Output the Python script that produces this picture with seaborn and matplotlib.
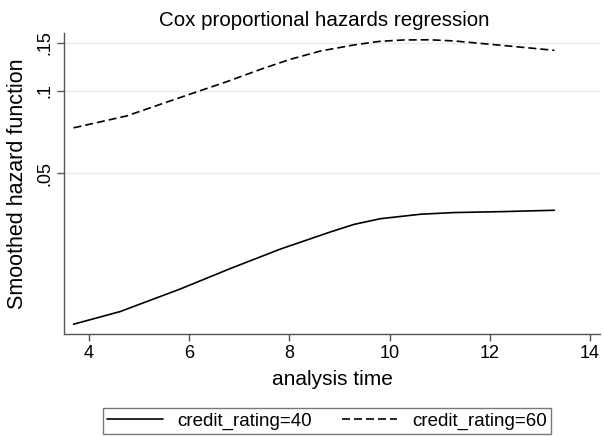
import matplotlib
matplotlib.use("Agg")
import matplotlib.pyplot as plt
import seaborn as sns
import pandas as pd
from matplotlib.ticker import FixedLocator, NullLocator, FixedFormatter
from matplotlib.lines import Line2D

# Data
time_40 = [3.69, 4.62, 5.82, 6.82, 7.82, 8.82, 9.29, 9.82, 10.62, 11.29, 12.29, 13.29]
haz_40 = [0.0141, 0.01568, 0.01895, 0.0225, 0.0265, 0.0306, 0.0326, 0.0342, 0.0355, 0.0360, 0.0363, 0.0367]
time_60 = [3.69, 4.75, 5.4, 6.09, 6.75, 7.42, 8.0, 8.62, 9.29, 9.8, 10.29, 10.8, 11.29, 12.29, 13.29]
haz_60 = [0.0733, 0.081, 0.089, 0.0983, 0.108, 0.1197, 0.130, 0.1397, 0.147, 0.1515, 0.1533, 0.1535, 0.152, 0.1462, 0.1405]
labels = ["credit_rating=40", "credit_rating=60"]
ytick_vals = [0.05, 0.1, 0.15]
ytick_labels = [".05", ".1", ".15"]
xtick_vals = [4, 6, 8, 10, 12, 14]

df = pd.concat([
    pd.DataFrame({"time": time_40, "haz": haz_40, "group": labels[0]}),
    pd.DataFrame({"time": time_60, "haz": haz_60, "group": labels[1]}),
])

sns.set_theme(style="white")
plt.rcParams['font.family'] = ['Liberation Sans', 'DejaVu Sans']
plt.rcParams['text.color'] = 'black'

DASH = (4.8, 2.4)

fig = plt.figure(figsize=(6.04, 4.36), dpi=100)
ax = fig.add_axes([64/604, 1-334/436, (600-64)/604, (334-33)/436])

sns.lineplot(data=df, x="time", y="haz", hue="group", style="group",
             palette=["black", "black"], dashes={labels[0]: "", labels[1]: DASH},
             linewidth=1.2, ax=ax, legend=False, estimator=None, sort=True)

ax.set_yscale("log")
ax.set_ylim(0.01299, 0.1625)
ax.set_xlim(3.5, 14.2)
ax.yaxis.set_major_locator(FixedLocator(ytick_vals))
ax.yaxis.set_major_formatter(FixedFormatter(ytick_labels))
ax.yaxis.set_minor_locator(NullLocator())
ax.set_xticks(xtick_vals)
ax.set_xticklabels([str(v) for v in xtick_vals])

for t in ytick_vals:
    ax.axhline(t, color="#ececec", lw=1.0, zorder=0)

for s in ["top", "right"]:
    ax.spines[s].set_visible(False)
for s in ["left", "bottom"]:
    ax.spines[s].set_color("#555555")
    ax.spines[s].set_linewidth(1.0)

ax.tick_params(axis="both", which="major", direction="out", length=5, width=1,
               color="#555555", labelsize=13, labelcolor="black", bottom=True, left=True, pad=3)
for lab in ax.get_yticklabels():
    lab.set_rotation(90)
    lab.set_va("center")

ax.set_xlabel("analysis time", fontsize=15, labelpad=6, color="black")
ax.set_ylabel("Smoothed hazard function", fontsize=15.5, labelpad=6, color="black")
ax.set_title("Cox proportional hazards regression", fontsize=14.8, pad=5, color="black", x=0.485)

handles = [Line2D([], [], color="black", lw=1.2),
           Line2D([], [], color="black", lw=1.2, dashes=DASH)]
leg = fig.legend(handles, labels, loc="upper left", bbox_to_anchor=(102.7/604, 1-407.7/436),
                 borderaxespad=0, ncol=2, frameon=True, fancybox=False, fontsize=13.5,
                 handlelength=2.95, handletextpad=0.78, columnspacing=1.6, borderpad=0.25,
                 edgecolor="#555555")
leg.get_frame().set_linewidth(1.0)
for t in leg.get_texts():
    t.set_color("black")

fig.savefig("out.png", dpi=100)
